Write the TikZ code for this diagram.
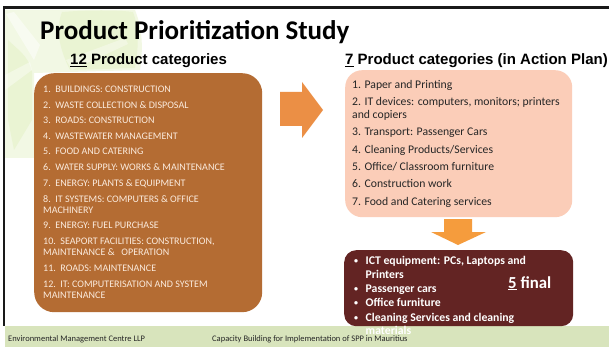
\documentclass[tikz,border=0pt]{standalone}
\usepackage{fontspec}
\setmainfont{Carlito}
\newfontfamily\headfont{Liberation Sans}
\definecolor{brownbox}{HTML}{B46C33}
\definecolor{peachbox}{HTML}{FBCDB8}
\definecolor{darkbox}{HTML}{632423}
\definecolor{arrowor}{HTML}{EB8F45}
\definecolor{arrowdn}{HTML}{F59C3D}
\definecolor{footerg}{HTML}{D8E4BC}
\definecolor{leaf}{HTML}{F2F8E4}
\definecolor{leafdeep}{HTML}{EAF4D3}
\definecolor{lefttxt}{HTML}{FBEBDD}
\tikzset{
  x=1pt,y=-1pt,
  titletxt/.style={anchor=base west,inner sep=0pt,font=\fontsize{27}{30}\selectfont\bfseries},
  headtxt/.style={anchor=base west,inner sep=0pt,font=\headfont\fontsize{15}{16}\selectfont\bfseries},
  leftitem/.style={anchor=base west,inner sep=0pt,text=lefttxt,font=\fontsize{10.05}{11}\selectfont},
  peachitem/.style={anchor=base west,inner sep=0pt,text=black!85,font=\fontsize{11.7}{13}\selectfont},
  darkitem/.style={anchor=base west,inner sep=0pt,text=white,font=\fontsize{11.75}{13}\selectfont\bfseries},
  bulletmark/.style={anchor=base west,inner sep=0pt,text=white,font=\fontsize{8}{9}\selectfont\bfseries},
  foot/.style={anchor=base west,inner sep=0pt,text=black!85,font=\fontsize{8.5}{9}\selectfont},
}
\begin{document}
\begin{tikzpicture}
\useasboundingbox (0,0) rectangle (609,347);
\fill[white] (0,0) rectangle (609,347);
% pale leaf backdrop
\fill[leaf] (5,10) -- (135,10) .. controls (143,30) and (143,50) .. (140,70) -- (34,73) -- (34,158) -- (5,158) -- cycle;
\fill[leafdeep] (62,12) .. controls (85,10) and (120,10) .. (133,12) .. controls (140,30) and (138,50) .. (135,68) -- (70,70) .. controls (60,50) and (55,30) .. (62,12) -- cycle;
\fill[leafdeep] (8,40) .. controls (18,50) and (28,55) .. (32,72) -- (32,120) -- (14,150) -- (8,120) -- cycle;
\fill[white,opacity=.5] (6,14) -- (14,12) -- (40,45) -- (34,60) -- cycle;
\fill[white,opacity=.4] (5,75) -- (30,62) -- (32,70) -- (5,90) -- cycle;
\fill[white,opacity=.35] (66,60) -- (125,38) -- (128,44) -- (72,70) -- cycle;
% frame
\fill[black!90] (3,6) rectangle (609,9);
\fill[black!90] (3,6) rectangle (5,326);
% footer
\fill[footerg] (5,326) rectangle (609,347);
% boxes
\node[draw=none,fill=brownbox,rounded corners=20,minimum width=228,minimum height=239,anchor=north west,inner sep=0pt] (brown) at (34,73) {};
\node[draw=none,fill=peachbox,rounded corners=17,minimum width=227,minimum height=147,anchor=north west,inner sep=0pt] (peach) at (345,70) {};
\node[draw=none,fill=darkbox,rounded corners=12,minimum width=229,minimum height=76,anchor=north west,inner sep=0pt] (dark) at (344,250) {};
% block arrows
\fill[arrowor] (280,92) -- (302,92) -- (302,82) -- (323,110) -- (302,138) -- (302,126) -- (280,126) -- cycle;
\fill[arrowdn] (444,219) -- (472,219) -- (472,232) -- (486,232) -- (458,245) -- (431,232) -- (444,232) -- cycle;
% headings
\node[titletxt] (title) at (40,40) {Product Prioritization Study};
\node[headtxt] (h12) at (70,65) {\underline{12} Product categories};
\node[headtxt] (h7) at (345,65) {\underline{7} Product categories (in Action Plan)};
% left list
\node[leftitem] (l1) at (43,93) {1.\ \ BUILDINGS: CONSTRUCTION};
\node[leftitem] (l2) at (43,108.7) {2.\ \ WASTE COLLECTION \& DISPOSAL};
\node[leftitem] (l3) at (43,124) {3.\ \ ROADS: CONSTRUCTION};
\node[leftitem] (l4) at (43,140) {4.\ \ WASTEWATER MANAGEMENT};
\node[leftitem] (l5) at (43,155) {5.\ \ FOOD AND CATERING};
\node[leftitem] (l6) at (43,171) {6.\ \ WATER SUPPLY: WORKS \& MAINTENANCE};
\node[leftitem] (l7) at (43,186) {7.\ \ ENERGY: PLANTS \& EQUIPMENT};
\node[leftitem] (l8) at (43,202) {8.\ \ IT SYSTEMS: COMPUTERS \& OFFICE};
\node[leftitem] (l8b) at (43,213) {MACHINERY};
\node[leftitem] (l9) at (43,228) {9.\ \ ENERGY: FUEL PURCHASE};
\node[leftitem] (l10) at (43,244) {10.\ \ SEAPORT FACILITIES: CONSTRUCTION,};
\node[leftitem] (l10b) at (43,255) {MAINTENANCE \&\ \ \ OPERATION};
\node[leftitem] (l11) at (43,271) {11.\ \ ROADS: MAINTENANCE};
\node[leftitem] (l12) at (43,287) {12.\ \ IT: COMPUTERISATION AND SYSTEM};
\node[leftitem] (l12b) at (43,298) {MAINTENANCE};
% peach list
\node[peachitem] (p1) at (352,89) {1. Paper and Printing};
\node[peachitem] (p2) at (352,106) {2. IT devices: computers, monitors; printers};
\node[peachitem] (p2b) at (352,119) {and copiers};
\node[peachitem] (p3) at (352,136) {3. Transport: Passenger Cars};
\node[peachitem] (p4) at (352,154) {4. Cleaning Products/Services};
\node[peachitem] (p5) at (352,171) {5. Office/ Classroom furniture};
\node[peachitem] (p6) at (352,188) {6. Construction work};
\node[peachitem] (p7) at (352,205) {7. Food and Catering services};
% dark list
\node[bulletmark] (b1) at (354,263) {•};
\node[darkitem] (d1) at (365.5,264) {ICT equipment: PCs, Laptops and};
\node[darkitem] (d1b) at (365.5,278) {Printers};
\node[bulletmark] (b2) at (354,291) {•};
\node[darkitem] (d2) at (365.5,292) {Passenger cars};
\node[bulletmark] (b3) at (354,305) {•};
\node[darkitem] (d3) at (365.5,306) {Office furniture};
\node[bulletmark] (b4) at (354,320) {•};
\node[darkitem] (d4) at (365.5,321) {Cleaning Services and cleaning};
\node[darkitem] (d4b) at (365.5,334) {materials};
\node[anchor=base west,inner sep=0pt,text=white,font=\fontsize{16.8}{18}\selectfont\bfseries] (five) at (508,288) {\underline{5} final};
% footer text
\node[foot] (f1) at (8,341.5) {Environmental Management Centre LLP};
\node[foot] (f2) at (212,341.5) {Capacity Building for Implementation of SPP in Mauritius};
\end{tikzpicture}
\end{document}
